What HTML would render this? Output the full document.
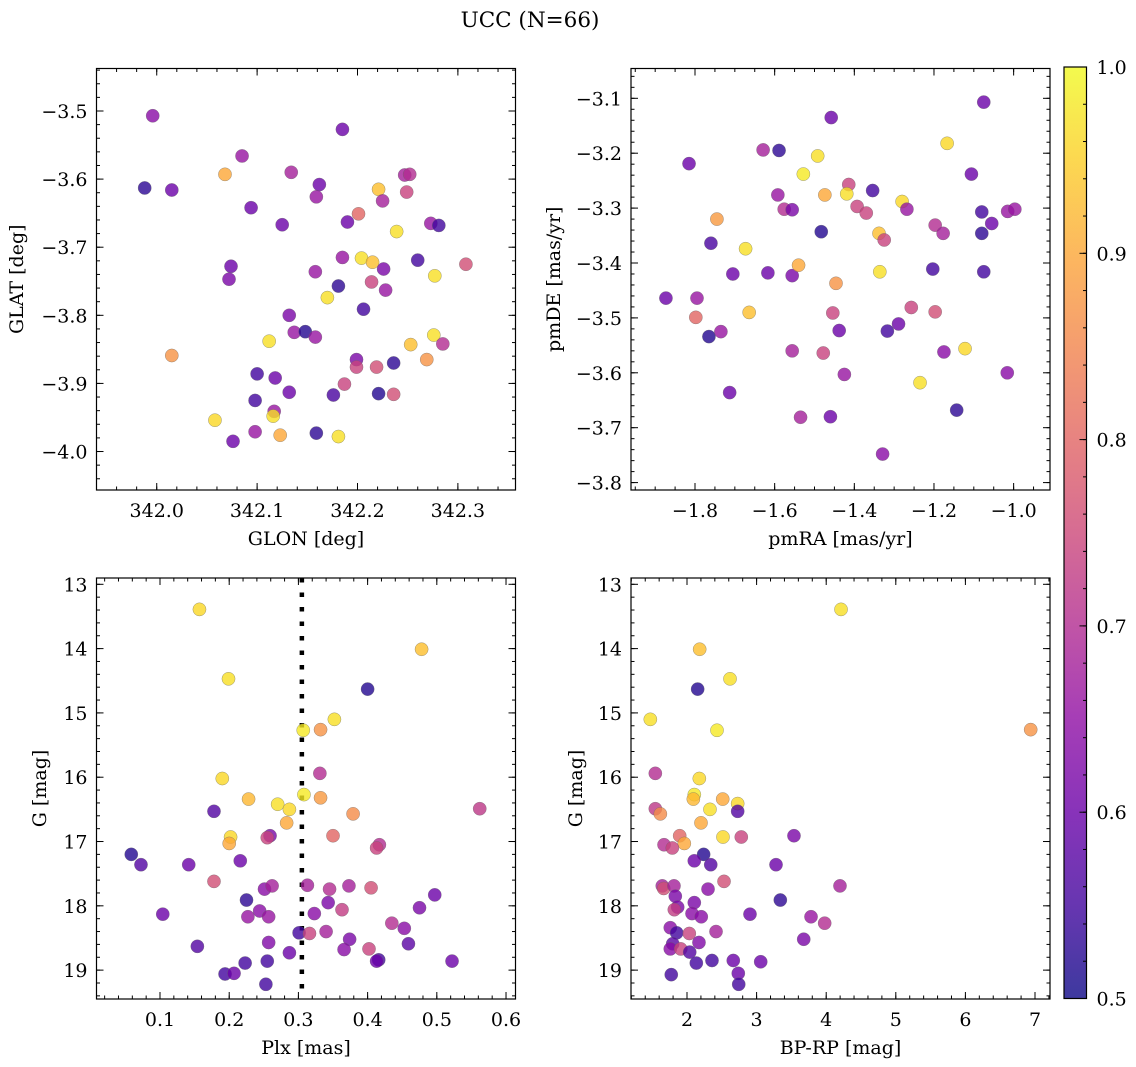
<!DOCTYPE html>
<html><head><meta charset="utf-8">
<style>
html,body{margin:0;padding:0;background:#fff;}
svg{display:block;font-family:"DejaVu Serif","Liberation Serif",serif;}
</style></head>
<body>
<svg id="fig" width="1136" height="1067" viewBox="0 0 1136 1067" xmlns="http://www.w3.org/2000/svg">
<defs>
<linearGradient id="plasmaGrad" x1="0" y1="1" x2="0" y2="0">
<stop offset="0" stop-color="#0d0887"/><stop offset="0.1" stop-color="#41049d"/><stop offset="0.2" stop-color="#6a00a8"/><stop offset="0.3" stop-color="#8f0da4"/><stop offset="0.4" stop-color="#b12a90"/><stop offset="0.5" stop-color="#cc4778"/><stop offset="0.6" stop-color="#e16462"/><stop offset="0.7" stop-color="#f2844b"/><stop offset="0.8" stop-color="#fca636"/><stop offset="0.9" stop-color="#fcce25"/><stop offset="1" stop-color="#f0f921"/>
</linearGradient>
</defs>
<text x="530" y="27" font-size="21.5" text-anchor="middle">UCC (N=66)</text>
</svg>
<script>
// ---------- Panel 1: GLON / GLAT ----------
const p1Glon = [341.996,342.185,342.085,342.068,342.134,342.162,341.988,342.015,342.159,342.247,342.252,342.221,342.249,342.225,342.094,342.201,342.125,342.190,342.239,342.273,342.281,342.074,342.072,342.158,342.185,342.204,342.215,342.226,342.260,342.308,342.277,342.181,342.214,342.228,342.170,342.206,342.132,342.137,342.148,342.158,342.112,342.015,342.199,342.199,342.219,342.236,342.253,342.276,342.285,342.269,342.100,342.118,342.132,342.187,342.176,342.221,342.236,342.098,342.117,342.116,342.058,342.098,342.076,342.123,342.159,342.181];
const p1Glat = [-3.507,-3.527,-3.566,-3.593,-3.590,-3.608,-3.613,-3.616,-3.626,-3.594,-3.593,-3.615,-3.619,-3.632,-3.642,-3.651,-3.667,-3.663,-3.677,-3.665,-3.668,-3.728,-3.747,-3.736,-3.715,-3.716,-3.722,-3.732,-3.719,-3.725,-3.742,-3.757,-3.751,-3.763,-3.774,-3.791,-3.800,-3.825,-3.824,-3.832,-3.838,-3.859,-3.865,-3.876,-3.876,-3.870,-3.843,-3.829,-3.842,-3.865,-3.886,-3.892,-3.913,-3.901,-3.917,-3.915,-3.916,-3.925,-3.941,-3.948,-3.954,-3.971,-3.985,-3.976,-3.973,-3.978];
const p1Prob = [.64,.6,.66,.9,.68,.6,.53,.6,.66,.68,.7,.93,.74,.68,.6,.8,.6,.6,.97,.66,.55,.6,.62,.66,.66,.97,.93,.62,.55,.76,.97,.53,.74,.66,.97,.55,.62,.66,.52,.66,.97,.87,.62,.74,.76,.53,.93,.97,.7,.87,.55,.6,.6,.74,.56,.52,.76,.55,.66,.97,.96,.66,.6,.9,.53,.97];
const p1XTicks = [342.0,342.1,342.2,342.3];
const p1YTicks = [-3.5,-3.6,-3.7,-3.8,-3.9,-4.0];

// ---------- Panel 2: pmRA / pmDE ----------
const p2PmRA = [-1.075,-1.458,-1.815,-1.629,-1.589,-1.492,-1.167,-1.106,-1.528,-1.592,-1.576,-1.556,-1.474,-1.414,-1.419,-1.354,-1.393,-1.370,-1.280,-1.268,-1.338,-1.325,-1.483,-1.745,-1.760,-1.673,-1.197,-1.177,-1.080,-1.055,-1.015,-0.997,-1.080,-1.705,-1.617,-1.556,-1.540,-1.446,-1.336,-1.203,-1.075,-1.873,-1.795,-1.798,-1.664,-1.765,-1.735,-1.454,-1.438,-1.317,-1.289,-1.257,-1.197,-1.556,-1.478,-1.425,-1.175,-1.122,-1.713,-1.235,-1.535,-1.460,-1.143,-1.016,-1.329];
const p2PmDE = [-3.107,-3.135,-3.219,-3.194,-3.195,-3.205,-3.182,-3.238,-3.238,-3.276,-3.302,-3.303,-3.276,-3.257,-3.274,-3.268,-3.297,-3.309,-3.288,-3.302,-3.346,-3.358,-3.343,-3.320,-3.364,-3.374,-3.331,-3.346,-3.307,-3.328,-3.306,-3.302,-3.346,-3.420,-3.418,-3.423,-3.404,-3.437,-3.416,-3.411,-3.416,-3.464,-3.464,-3.499,-3.490,-3.534,-3.525,-3.491,-3.523,-3.524,-3.511,-3.481,-3.489,-3.560,-3.564,-3.603,-3.562,-3.556,-3.636,-3.618,-3.681,-3.680,-3.668,-3.600,-3.748];
const p2Prob = [.6,.6,.6,.68,.53,.97,.96,.6,.98,.66,.7,.62,.9,.74,.97,.55,.74,.74,.96,.66,.93,.74,.52,.88,.56,.97,.7,.68,.55,.6,.66,.66,.53,.6,.6,.62,.9,.87,.97,.55,.55,.6,.66,.8,.93,.52,.66,.74,.6,.55,.6,.74,.76,.68,.74,.66,.64,.96,.6,.97,.68,.6,.53,.64,.64];
const p2XTicks = [-1.8,-1.6,-1.4,-1.2,-1.0];
const p2YTicks = [-3.1,-3.2,-3.3,-3.4,-3.5,-3.6,-3.7,-3.8];

// ---------- Panel 3: Plx / G ----------
const p3Plx = [0.157,0.478,0.199,0.400,0.352,0.307,0.332,0.331,0.190,0.308,0.228,0.270,0.287,0.332,0.379,0.562,0.178,0.283,0.202,0.200,0.259,0.255,0.350,0.417,0.413,0.0585,0.0725,0.1415,0.216,0.178,0.251,0.262,0.313,0.345,0.373,0.405,0.225,0.343,0.363,0.497,0.475,0.104,0.244,0.227,0.257,0.323,0.435,0.453,0.301,0.316,0.340,0.374,0.366,0.402,0.459,0.257,0.154,0.287,0.223,0.255,0.416,0.413,0.522,0.194,0.207,0.253];
const p3G = [13.39,14.01,14.47,14.63,15.10,15.27,15.26,15.94,16.02,16.27,16.34,16.42,16.50,16.32,16.57,16.49,16.53,16.71,16.93,17.03,16.91,16.94,16.91,17.05,17.10,17.20,17.36,17.36,17.30,17.62,17.74,17.69,17.68,17.74,17.69,17.72,17.91,17.95,18.06,17.83,18.03,18.13,18.08,18.17,18.17,18.12,18.27,18.35,18.42,18.43,18.40,18.52,18.68,18.67,18.59,18.57,18.63,18.73,18.89,18.86,18.84,18.86,18.86,19.06,19.05,19.22];
const p3Prob = [.96,.93,.97,.52,.97,.98,.87,.70,.96,.98,.92,.97,.96,.88,.86,.72,.57,.9,.96,.9,.62,.74,.8,.70,.74,.52,.57,.6,.6,.76,.64,.68,.68,.7,.68,.76,.53,.62,.73,.6,.62,.6,.64,.66,.66,.64,.7,.64,.55,.74,.68,.62,.64,.74,.58,.63,.57,.6,.55,.55,.55,.6,.6,.55,.6,.55];
const p3XTicks = [0.1,0.2,0.3,0.4,0.5,0.6];
const p3YTicks = [13,14,15,16,17,18,19];
const p3PlxLine = [0.305];

// ---------- Panel 4: BP-RP / G ----------
const p4BpRp = [4.213,2.182,2.618,2.153,1.473,2.431,6.938,1.545,2.177,2.105,2.091,2.513,2.330,2.728,2.728,1.545,1.617,2.201,1.895,1.961,2.517,2.780,3.537,1.670,1.789,2.239,2.105,2.341,3.279,1.645,1.665,1.813,1.832,2.302,2.532,4.198,3.341,2.105,1.866,1.818,2.072,2.205,2.905,3.782,3.978,1.760,1.852,2.033,2.417,3.677,2.172,1.795,1.760,1.910,2.039,2.134,2.359,2.665,3.059,1.774,2.737,2.743];
const p4G = [13.39,14.01,14.47,14.63,15.10,15.27,15.26,15.94,16.02,16.27,16.34,16.34,16.50,16.41,16.53,16.49,16.57,16.71,16.91,17.03,16.93,16.93,16.91,17.05,17.10,17.20,17.30,17.36,17.36,17.69,17.73,17.69,17.85,17.74,17.62,17.69,17.91,17.95,18.02,18.06,18.12,18.17,18.13,18.17,18.27,18.34,18.42,18.43,18.40,18.52,18.57,18.59,18.67,18.67,18.72,18.89,18.85,18.85,18.87,19.07,19.05,19.22];
const p4Prob = [.97,.93,.97,.52,.97,.98,.87,.70,.96,.98,.92,.9,.97,.96,.57,.72,.86,.9,.8,.9,.96,.74,.62,.70,.74,.52,.6,.57,.6,.68,.76,.68,.62,.64,.76,.68,.53,.62,.62,.73,.64,.64,.6,.66,.7,.64,.55,.74,.68,.62,.63,.58,.64,.74,.57,.55,.55,.6,.6,.55,.6,.55];
const p4XTicks = [2,3,4,5,6,7];
const p4YTicks = [13,14,15,16,17,18,19];

// ---------- Colorbar ----------
const cbarTicks = [0.5,0.6,0.7,0.8,0.9,1.0];
const cbarRange = [0.5,1.0];

const NS = "http://www.w3.org/2000/svg";
const svg = document.getElementById('fig');
const FS = 19;
const plasmaStops = [[13,8,135],[65,4,157],[106,0,168],[143,13,164],[177,42,144],[204,71,120],[225,100,98],[242,132,75],[252,166,54],[252,206,37],[240,249,33]];
function plasma(p){
  let t=(p-cbarRange[0])/(cbarRange[1]-cbarRange[0]); t=Math.max(0,Math.min(1,t));
  const s=t*10, i=Math.min(9,Math.floor(s)), f=s-i;
  const a=plasmaStops[i], b=plasmaStops[i+1];
  return 'rgb('+a.map((v,k)=>Math.round(v+(b[k]-v)*f)).join(',')+')';
}
function mk(tag, attrs, parent){
  const e=document.createElementNS(NS,tag);
  for(const k in attrs) e.setAttribute(k,attrs[k]);
  (parent||svg).appendChild(e); return e;
}
function fmt(v,dec){ const s=Math.abs(v).toFixed(dec); return (v<0?'\u2212':'')+s; }
function lin(d0,d1,r0,r1){ return v=> r0+(v-d0)/(d1-d0)*(r1-r0); }

function panel(cfg){
  const g=mk('g',{});
  
  
  const sx=lin(cfg.xd[0],cfg.xd[1],cfg.x0,cfg.x1);
  const sy=lin(cfg.yd[0],cfg.yd[1],cfg.y1,cfg.y0);
  if(cfg.vlines){ cfg.vlines.forEach(v=>{
    const l=mk('line',{x1:sx(v),x2:sx(v),y1:cfg.y0,y2:cfg.y1,stroke:'#000','stroke-width':4.5,'stroke-dasharray':'4.5 10'},g);
    
    
  });}
  const n=Math.min(cfg.xs.length,cfg.ys.length,cfg.cs.length);
  const pts=mk('g',{},g);
  
  
  for(let i=0;i<n;i++){
    const c=mk('circle',{cx:sx(cfg.xs[i]),cy:sy(cfg.ys[i]),r:6.6,fill:plasma(cfg.cs[i]),'fill-opacity':0.8,stroke:'#666','stroke-width':0.4,'stroke-opacity':0.8},pts);
    
    
  }
  const fr=mk('rect',{x:cfg.x0,y:cfg.y0,width:cfg.x1-cfg.x0,height:cfg.y1-cfg.y0,fill:'none',stroke:'#000','stroke-width':1.2},g);
  
  
  const tk=mk('g',{stroke:'#000','stroke-width':1},g);
  const eps=1e-9;
  for(let v=Math.ceil(cfg.xd[0]/cfg.xmin-eps)*cfg.xmin; v<=cfg.xd[1]+eps; v+=cfg.xmin){
    const x=sx(v); if(x<cfg.x0||x>cfg.x1) continue;
    mk('line',{x1:x,x2:x,y1:cfg.y1,y2:cfg.y1-3.5},tk); mk('line',{x1:x,x2:x,y1:cfg.y0,y2:cfg.y0+3.5},tk);
  }
  const ylo=Math.min(cfg.yd[0],cfg.yd[1]), yhi=Math.max(cfg.yd[0],cfg.yd[1]);
  for(let v=Math.ceil(ylo/cfg.ymin-eps)*cfg.ymin; v<=yhi+eps; v+=cfg.ymin){
    const y=sy(v); if(y<cfg.y0||y>cfg.y1) continue;
    mk('line',{x1:cfg.x0,x2:cfg.x0+3.5,y1:y,y2:y},tk); mk('line',{x1:cfg.x1,x2:cfg.x1-3.5,y1:y,y2:y},tk);
  }
  cfg.xt.forEach(v=>{
    const x=sx(v);
    mk('line',{x1:x,x2:x,y1:cfg.y1,y2:cfg.y1-7},tk); mk('line',{x1:x,x2:x,y1:cfg.y0,y2:cfg.y0+7},tk);
    const t=mk('text',{x:x,y:cfg.y1+27,'font-size':FS,'text-anchor':'middle'},g);
    t.textContent=fmt(v,cfg.xdec);
    
    
  });
  cfg.yt.forEach(v=>{
    const y=sy(v);
    mk('line',{x1:cfg.x0,x2:cfg.x0+7,y1:y,y2:y},tk); mk('line',{x1:cfg.x1,x2:cfg.x1-7,y1:y,y2:y},tk);
    const t=mk('text',{x:cfg.x0-9,y:y+7,'font-size':FS,'text-anchor':'end'},g);
    t.textContent=fmt(v,cfg.ydec);
    
    
  });
  const xl=mk('text',{x:(cfg.x0+cfg.x1)/2,y:cfg.y1+55,'font-size':FS,'text-anchor':'middle'},g);
  xl.textContent=cfg.xlabel;
  
  
  const cy=(cfg.y0+cfg.y1)/2;
  const yl=mk('text',{x:cfg.ylx,y:cy,'font-size':FS,'text-anchor':'middle',transform:'rotate(-90 '+cfg.ylx+' '+cy+')'},g);
  yl.textContent=cfg.ylabel;
  
  
}

panel({name:'glon-glat-panel',x0:96.5,x1:515.5,y0:68.5,y1:490,xd:[341.940,342.3574],yd:[-4.0565,-3.4376],
  xs:p1Glon,ys:p1Glat,cs:p1Prob,xt:p1XTicks,yt:p1YTicks,xmin:0.02,ymin:0.02,xdec:1,ydec:1,
  xlabel:'GLON [deg]',ylabel:'GLAT [deg]',ylx:23});
panel({name:'pm-panel',x0:631,x1:1050,y0:68.5,y1:490,xd:[-1.9607,-0.9087],yd:[-3.8135,-3.0457],
  xs:p2PmRA,ys:p2PmDE,cs:p2Prob,xt:p2XTicks,yt:p2YTicks,xmin:0.05,ymin:0.02,xdec:1,ydec:1,
  xlabel:'pmRA [mas/yr]',ylabel:'pmDE [mas/yr]',ylx:560});
panel({name:'plx-g-panel',x0:96.5,x1:515.5,y0:578,y1:999,xd:[0.00824,0.6137],yd:[19.449,12.902],
  xs:p3Plx,ys:p3G,cs:p3Prob,xt:p3XTicks,yt:p3YTicks,xmin:0.02,ymin:0.2,xdec:1,ydec:0,vlines:p3PlxLine,
  xlabel:'Plx [mas]',ylabel:'G [mag]',ylx:46});
panel({name:'cmd-panel',x0:631,x1:1050,y0:578,y1:999,xd:[1.1954,7.2155],yd:[19.449,12.902],
  xs:p4BpRp,ys:p4G,cs:p4Prob,xt:p4XTicks,yt:p4YTicks,xmin:0.2,ymin:0.2,xdec:0,ydec:0,
  xlabel:'BP-RP [mag]',ylabel:'G [mag]',ylx:582});

(function(){
  const x0=1064,x1=1086.5,y0=67,y1=998.5;
  const g=mk('g',{});
  
  
  mk('rect',{x:x0,y:y0,width:x1-x0,height:y1-y0,fill:'url(#plasmaGrad)','fill-opacity':0.8},g);
  mk('rect',{x:x0,y:y0,width:x1-x0,height:y1-y0,fill:'none',stroke:'#000','stroke-width':1.2},g);
  const sy=lin(cbarRange[0],cbarRange[1],y1,y0);
  for(let v=cbarRange[0]; v<=cbarRange[1]+1e-9; v+=0.02){
    mk('line',{x1:x1,x2:x1-3.5,y1:sy(v),y2:sy(v),stroke:'#000','stroke-width':1},g);
  }
  cbarTicks.forEach(v=>{
    const y=sy(v);
    mk('line',{x1:x1,x2:x1-7,y1:y,y2:y,stroke:'#000','stroke-width':1},g);
    const t=mk('text',{x:x1+10,y:y+7,'font-size':FS},g);
    t.textContent=v.toFixed(1);
    
    
  });
})();
</script>
</body></html>
